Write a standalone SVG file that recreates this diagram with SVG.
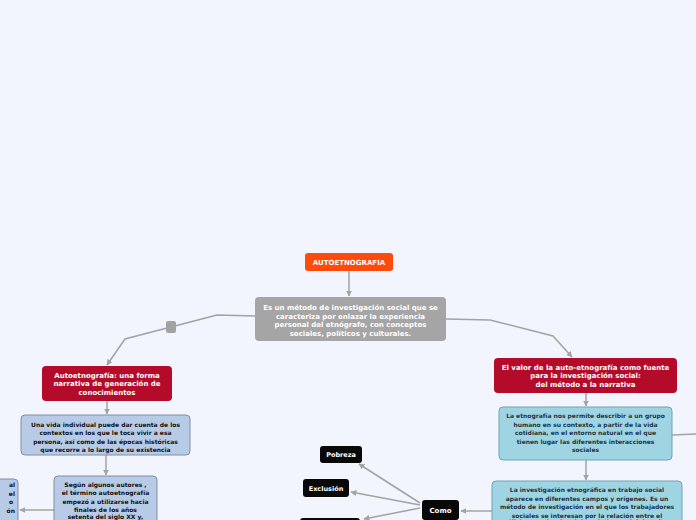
<svg xmlns="http://www.w3.org/2000/svg" width="696" height="520" viewBox="0 0 696 520">
<defs>
<style>
.t{font-family:"DejaVu Sans",Verdana,sans-serif;font-weight:bold;font-size:7px;text-anchor:middle}
.w{fill:#ffffff}
.k{fill:#111111;font-size:6px}
.d{fill:#1d3447;font-size:6px}
.s{font-size:6.5px}
.c{fill:none;stroke:#a3a3a3;stroke-width:1.5}
.blue{fill:#b8cbe6;stroke:#7f8ea6;stroke-width:1}
.teal{fill:#9fd5e3;stroke:#6fa3b4;stroke-width:1}
.red{fill:#b40b2b}
.blk{fill:#080808}
</style>
<marker id="ah" viewBox="0 0 10 10" refX="9" refY="5" markerWidth="6" markerHeight="6" orient="auto" markerUnits="userSpaceOnUse">
<path d="M0,0 L10,5 L0,10 z" fill="#a3a3a3"/>
</marker>
</defs>
<rect width="696" height="520" fill="#f2f5fe"/>
<g id="connectors">
<path class="c" d="M349,271 V296" marker-end="url(#ah)"/>
<path class="c" d="M255,316 L217,315 L125,339 L107,365" marker-end="url(#ah)"/>
<path class="c" d="M446,319 L490,320 L553,336 L572,357" marker-end="url(#ah)"/>
<path class="c" d="M107,401 V414" marker-end="url(#ah)"/>
<path class="c" d="M106,455 V475" marker-end="url(#ah)"/>
<path class="c" d="M54,510 H20" marker-end="url(#ah)"/>
<path class="c" d="M586,393 V406" marker-end="url(#ah)"/>
<path class="c" d="M586,460 V480" marker-end="url(#ah)"/>
<path class="c" d="M672,435 L696,434"/>
<path class="c" d="M492,511 H461" marker-end="url(#ah)"/>
<path class="c" d="M420,503 L359,464" marker-end="url(#ah)"/>
<path class="c" d="M420,505 L351,492" marker-end="url(#ah)"/>
<path class="c" d="M420,508 L364,519" marker-end="url(#ah)"/>
</g>
<rect x="166" y="321" width="10" height="12" rx="2" fill="#a3a3a3"/>
<g id="root">
<rect x="305" y="253" width="88" height="18" rx="3" fill="#fd4a0d"/>
<text class="t w" x="349" y="264.5">AUTOETNOGRAFIA</text>
</g>
<g id="def">
<rect x="255" y="297" width="191" height="44" rx="4" fill="#a5a5a5"/>
<text class="t w" x="350.5" y="310">Es un método de investigación social que se</text>
<text class="t w" x="350.5" y="318.5">caracteriza por enlazar la experiencia</text>
<text class="t w" x="350.5" y="327">personal del etnógrafo, con conceptos</text>
<text class="t w" x="350.5" y="335.5">sociales, políticos y culturales.</text>
</g>
<g id="left-red">
<rect class="red" x="42" y="366" width="130" height="35" rx="4"/>
<text class="t w" x="107" y="377.5">Autoetnografía: una forma</text>
<text class="t w" x="107" y="386">narrativa de generación de</text>
<text class="t w" x="107" y="394.5">conocimientos</text>
</g>
<g id="vida">
<rect class="blue" x="21" y="415" width="169" height="40" rx="4"/>
<text class="t k" x="105.5" y="426.5">Una vida individual puede dar cuenta de los</text>
<text class="t k" x="105.5" y="435">contextos en los que le toca vivir a esa</text>
<text class="t k" x="105.5" y="443.5">persona, así como de las épocas históricas</text>
<text class="t k" x="105.5" y="452">que recorre a lo largo de su existencia</text>
</g>
<g id="segun">
<rect class="blue" x="54" y="476" width="103" height="60" rx="4"/>
<text class="t k" x="105.5" y="486.5">Según algunos autores ,</text>
<text class="t k" x="105.5" y="495">el término autoetnografía</text>
<text class="t k" x="105.5" y="503.5">empezó a utilizarse hacia</text>
<text class="t k" x="105.5" y="512">finales de los años</text>
<text class="t k" x="105.5" y="519">setenta del siglo XX y,</text>
</g>
<g id="left-partial">
<rect class="blue" x="-60" y="479" width="78" height="60" rx="4"/>
<text class="t k" x="15" y="487" style="text-anchor:end">al</text>
<text class="t k" x="15" y="495.5" style="text-anchor:end">el</text>
<text class="t k" x="13" y="504" style="text-anchor:end">o</text>
<text class="t k" x="15" y="512.5" style="text-anchor:end">ón</text>
</g>
<g id="right-red">
<rect class="red" x="494" y="358" width="183" height="35" rx="4"/>
<text class="t w" x="585.5" y="369.5">El valor de la auto-etnografía como fuente</text>
<text class="t w" x="585.5" y="378">para la investigación social:</text>
<text class="t w" x="585.5" y="386.5">del método a la narrativa</text>
</g>
<g id="etnografia">
<rect class="teal" x="499" y="407" width="173" height="53" rx="4"/>
<text class="t d" x="585.5" y="418">La etnografía nos permite describir a un grupo</text>
<text class="t d" x="585.5" y="426.5">humano en su contexto, a partir de la vida</text>
<text class="t d" x="585.5" y="435">cotidiana, en el entorno natural en el que</text>
<text class="t d" x="585.5" y="443.5">tienen lugar las diferentes interacciones</text>
<text class="t d" x="585.5" y="452">sociales</text>
</g>
<g id="investigacion">
<rect class="teal" x="492" y="481" width="190" height="60" rx="4"/>
<text class="t d" x="587" y="492">La investigación etnográfica en trabajo social</text>
<text class="t d" x="587" y="500.5">aparece en diferentes campos y orígenes. Es un</text>
<text class="t d" x="587" y="509">método de investigación en el que los trabajadores</text>
<text class="t d" x="587" y="517.5">sociales se interesan por la relación entre el</text>
<text class="t d" x="587" y="524">análisis organizacional, la práctica social, la cultura</text>
</g>
<g id="como">
<rect class="blk" x="422" y="500" width="37" height="20" rx="3"/>
<text class="t w" x="440.5" y="512.5">Como</text>
</g>
<g id="pobreza">
<rect class="blk" x="320" y="446" width="42" height="17" rx="3"/>
<text class="t w s" x="341" y="457">Pobreza</text>
</g>
<g id="exclusion">
<rect class="blk" x="303" y="479" width="46" height="18" rx="3"/>
<text class="t w s" x="326" y="490.5">Exclusión</text>
</g>
<g id="third">
<rect class="blk" x="300" y="518" width="60" height="16" rx="3"/>
</g>
</svg>
